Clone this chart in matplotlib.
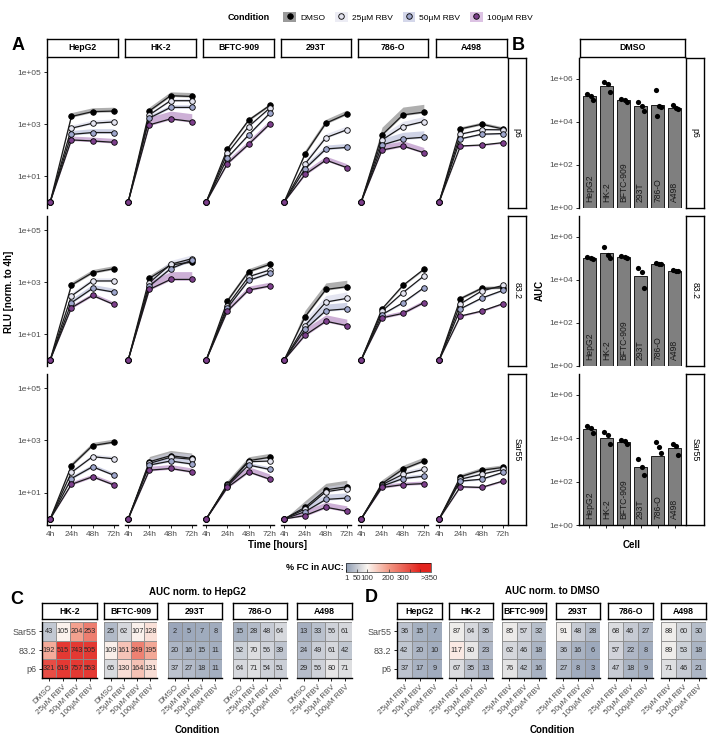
import numpy as np
import matplotlib
matplotlib.use('Agg')
import matplotlib.pyplot as plt
from matplotlib.colors import LinearSegmentedColormap, Normalize
from matplotlib.patches import Patch
from matplotlib.lines import Line2D
from matplotlib.cm import ScalarMappable
from matplotlib.ticker import NullLocator

plt.rcParams['font.family'] = ['Liberation Sans', 'DejaVu Sans']

# ---------------- data ----------------
times = ['4h', '24h', '48h', '72h']
cells = ['HepG2', 'HK-2', 'BFTC-909', '293T', '786-O', 'A498']
viruses = ['p6', '83.2', 'Sar55']
conditions = ['DMSO', '25µM RBV', '50µM RBV', '100µM RBV']

# RLU (norm. to 4h = 1) at 24h, 48h, 72h ; per cell -> per condition
rlu_p6 = [
    [[1950, 3000, 3150], [690, 1070, 1200], [400, 470, 470], [245, 223, 198]],
    [[3200, 12300, 11500], [2250, 7900, 7900], [1700, 4350, 4350], [930, 1580, 1250]],
    [[110, 1400, 5200], [75, 800, 4100], [50, 380, 2600], [30, 165, 1000]],
    [[70, 1080, 2450], [29, 300, 600], [19, 110, 126], [11.5, 41, 21]],
    [[380, 2250, 2870], [245, 800, 1250], [156, 270, 310], [100, 143, 79]],
    [[650, 980, 650], [405, 610, 600], [270, 405, 430], [143, 156, 192]],
]
rlu_832 = [
    [[760, 2300, 3250], [290, 1100, 1100], [160, 570, 410], [102, 305, 137]],
    [[1380, 4500, 5900], [940, 4800, 7900], [700, 3250, 6900], [520, 1260, 1260]],
    [[185, 2500, 4800], [125, 1600, 2900], [100, 1150, 2150], [76, 490, 700]],
    [[46, 520, 660], [21, 170, 235], [15, 80, 93], [9, 31, 21]],
    [[93, 740, 3100], [76, 390, 1700], [56, 160, 600], [42, 62, 160]],
    [[228, 570, 600], [145, 450, 740], [93, 240, 475], [49, 76, 145]],
]
rlu_sar55 = [
    [[108, 640, 860], [60, 240, 200], [35, 99, 47], [21, 41, 20]],
    [[154, 263, 208], [133, 228, 190], [115, 164, 126], [73, 85, 63]],
    [[21, 169, 228], [19.5, 154, 164], [18, 115, 78], [16, 63, 33]],
    [[2.8, 13, 17], [2.4, 11, 14.5], [1.9, 5.6, 6.3], [1.35, 2.8, 2.0]],
    [[22.5, 80, 164], [20.5, 51, 78], [18, 35, 43], [16, 20.5, 22.5]],
    [[41, 73, 93], [33, 51, 78], [28, 33, 60], [17, 16, 28]],
]
# upper ribbon width (log10 decades) per cell -> per condition
spread_p6 = [[0.15, 0.12, 0.15, 0.15], [0.15, 0.08, 0.1, 0.3], [0.08, 0.05, 0.05, 0.15],
             [0.15, 0.15, 0.15, 0.15], [0.3, 0.2, 0.25, 0.2], [0.08, 0.06, 0.05, 0.03]]
spread_832 = [[0.12, 0.12, 0.15, 0.1], [0.12, 0.15, 0.1, 0.3], [0.12, 0.08, 0.08, 0.15],
              [0.25, 0.25, 0.25, 0.25], [0.05, 0.05, 0.05, 0.1], [0.08, 0.05, 0.05, 0.05]]
spread_sar55 = [[0.12, 0.1, 0.1, 0.1], [0.2, 0.2, 0.15, 0.15], [0.15, 0.1, 0.1, 0.2],
                [0.25, 0.2, 0.2, 0.2], [0.15, 0.12, 0.1, 0.1], [0.1, 0.08, 0.05, 0.05]]

# AUC (DMSO)
auc_bar_p6 = [1.5e5, 4.6e5, 1.0e5, 5.5e4, 5.9e4, 4.6e4]
auc_pts_p6 = [[2e5, 1.6e5, 1.05e5], [7e5, 5.5e5, 2.4e5], [1.2e5, 1.0e5, 8.3e4],
              [8.7e4, 5.5e4, 3.2e4], [2.9e5, 5.5e4, 4.9e4, 1.8e4], [6e4, 4.6e4, 3.8e4]]
auc_bar_832 = [1.07e5, 1.8e5, 1.15e5, 1.5e4, 5.6e4, 2.6e4]
auc_pts_832 = [[1.15e5, 1.07e5, 9.5e4], [3.5e5, 1.4e5, 1.0e5], [1.25e5, 1.15e5, 1.07e5],
               [3.7e4, 2.2e4, 4e3], [6e4, 5.6e4, 5.3e4], [2.8e4, 2.6e4, 2.45e4]]
auc_bar_sar55 = [2.8e4, 1.07e4, 7e3, 475, 1500, 3500]
auc_pts_sar55 = [[3.7e4, 2.9e4, 1.7e4], [1.95e4, 1.4e4, 5.2e3], [8.3e3, 7.6e3, 5.2e3],
                 [1150, 490, 195], [6.8e3, 4e3, 2e3], [5.6e3, 4.5e3, 1.7e3]]

# % FC in AUC, rows: Sar55, 83.2, p6
fc_hepg2_cells = ['HK-2', 'BFTC-909', '293T', '786-O', 'A498']
fc_hepg2 = [
    [[43, 105, 204, 253], [192, 515, 743, 505], [321, 619, 757, 553]],
    [[25, 62, 107, 128], [109, 161, 249, 195], [65, 130, 164, 131]],
    [[2, 5, 7, 8], [20, 16, 15, 11], [37, 27, 18, 11]],
    [[15, 28, 48, 64], [52, 70, 56, 39], [64, 71, 54, 51]],
    [[13, 33, 56, 61], [24, 49, 61, 42], [29, 56, 80, 71]],
]
fc_dmso = [
    [[36, 15, 7], [42, 20, 10], [37, 17, 9]],
    [[87, 64, 35], [117, 80, 23], [67, 35, 13]],
    [[85, 57, 32], [62, 46, 18], [76, 42, 16]],
    [[91, 48, 28], [36, 16, 6], [27, 8, 3]],
    [[68, 46, 27], [57, 22, 8], [47, 18, 9]],
    [[88, 60, 30], [89, 53, 18], [71, 46, 21]],
]
heat_rows = ['Sar55', '83.2', 'p6']
fc_ticks = [1, 50, 100, 200, 300, 350]
fc_ticklabels = ['1', '50', '100', '200', '300', '>350']

# ---------------- styles ----------------
pt_colors = ['#000000', '#e4e4f0', '#9ea6cc', '#7d3f8c']
rib_colors = ['#6e6e6e', '#cfd1e6', '#a9b0d3', '#a46fb5']
key_colors = ['#9a9a9a', '#ececf4', '#d4d7ea', '#dcc2e3']
tick_col = '#4d4d4d'

W, H = 709, 738
fig = plt.figure(figsize=(W / 100, H / 100), dpi=100)


def box(x0, y0, x1, y1):
    return fig.add_axes([x0 / W, 1 - y1 / H, (x1 - x0) / W, (y1 - y0) / H])


def strip(x0, y0, x1, y1, label, rot=0, bold=True):
    s = box(x0, y0, x1, y1)
    s.set_xticks([])
    s.set_yticks([])
    for sp in s.spines.values():
        sp.set_linewidth(1.0)
    s.text(0.5, 0.5, label, ha='center', va='center', rotation=rot, fontsize=6.3,
           fontweight='bold' if bold else 'normal', transform=s.transAxes)


def clean(ax, left, bottom):
    for sp in ['top', 'right']:
        ax.spines[sp].set_visible(False)
    ax.spines['left'].set_visible(left)
    ax.spines['bottom'].set_visible(bottom)
    ax.spines['left'].set_linewidth(1.0)
    ax.spines['bottom'].set_linewidth(1.0)
    ax.tick_params(length=2.5, width=0.6, labelsize=6, labelcolor=tick_col, pad=1.5,
                   left=left, labelleft=left, bottom=bottom, labelbottom=bottom)
    ax.yaxis.set_minor_locator(NullLocator())


# ---------------- legend ----------------
fig.text(228 / W, 1 - 17 / H, 'Condition', fontsize=6.5, fontweight='bold', va='center')
handles = [(Patch(facecolor=key_colors[k], edgecolor='none'),
            Line2D([], [], marker='o', ls='', mfc=pt_colors[k], mec='black', mew=0.6, ms=4))
           for k in range(4)]
fig.legend(handles, conditions, loc='center', bbox_to_anchor=(408 / W, 1 - 17 / H), ncol=4,
           frameon=False, fontsize=6, handlelength=1.5, handleheight=1.6,
           handletextpad=0.5, columnspacing=1.2, borderpad=0)

# ---------------- panel A ----------------
A_cols = [(47, 118), (125, 196), (203, 274), (281, 351), (358, 428), (436, 507)]
rows = [(58, 208), (216, 366), (374, 525)]
rlu_all = [rlu_p6, rlu_832, rlu_sar55]
spread_all = [spread_p6, spread_832, spread_sar55]
xs = np.arange(len(times))

for r in range(3):
    for c in range(6):
        ax = box(A_cols[c][0], rows[r][0], A_cols[c][1], rows[r][1])
        ax.set_yscale('log')
        for k in range(4):
            vals = np.array([1] + rlu_all[r][c][k], dtype=float)
            up = vals * 10 ** np.array([0] + [spread_all[r][c][k]] * 3)
            lo = vals * 10 ** np.array([0, -0.03, -0.03, -0.03])
            ax.fill_between(xs, lo, up, color=rib_colors[k], alpha=0.55, lw=0, zorder=1)
        for k in range(4):
            vals = [1] + rlu_all[r][c][k]
            ax.plot(xs, vals, color='#1a1a1a', lw=0.9, zorder=2 + k,
                    marker='o', ms=4, mfc=pt_colors[k], mec='black', mew=0.6)
        ax.set_xlim(-0.15, 3.2)
        ax.set_ylim(10 ** -0.23, 10 ** 5.54)
        ax.set_yticks([10, 1000, 1e5])
        ax.set_yticklabels(['1e+01', '1e+03', '1e+05'])
        ax.set_xticks(xs)
        ax.set_xticklabels(times)
        clean(ax, c == 0, r == 2)
        if r == 0:
            strip(A_cols[c][0], 39, A_cols[c][1], 57, cells[c])
    strip(508, rows[r][0], 526, rows[r][1], viruses[r], rot=-90, bold=False)

fig.text(12 / W, 1 - 45 / H, 'A', fontsize=13, fontweight='bold', va='center')
fig.text(9 / W, 1 - 292 / H, 'RLU [norm. to 4h]', rotation=90, fontsize=7,
         fontweight='bold', ha='center', va='center')
fig.text(277 / W, 1 - 545 / H, 'Time [hours]', fontsize=7, fontweight='bold',
         ha='center', va='center')

# ---------------- panel B ----------------
bar_all = [auc_bar_p6, auc_bar_832, auc_bar_sar55]
pts_all = [auc_pts_p6, auc_pts_832, auc_pts_sar55]
jit = [-0.12, 0.1, 0.2, -0.05]
for r in range(3):
    ax = box(579, rows[r][0], 685, rows[r][1])
    ax.set_yscale('log')
    bx = np.arange(len(cells))
    ax.bar(bx, np.array(bar_all[r]) - 1, bottom=1, width=0.78, color='#7f7f7f',
           edgecolor='black', lw=0.6, zorder=1)
    for i, pts in enumerate(pts_all[r]):
        ax.scatter([i + jit[j] for j in range(len(pts))], pts, s=14, color='black',
                   lw=0, zorder=3)
        ax.text(i, 1.8, cells[i], rotation=90, ha='center', va='bottom', fontsize=6.2,
                color='#1a1a1a', zorder=4)
    ax.set_xlim(-0.6, 5.6)
    ax.set_ylim(1, 10 ** 6.96)
    ax.set_yticks([1, 100, 1e4, 1e6])
    ax.set_yticklabels(['1e+00', '1e+02', '1e+04', '1e+06'])
    ax.set_xticks(bx)
    ax.set_xticklabels([''] * 6)
    clean(ax, True, r == 2)
    strip(686, rows[r][0], 704, rows[r][1], viruses[r], rot=-90, bold=False)
strip(580, 39, 685, 57, 'DMSO')
fig.text(512 / W, 1 - 45 / H, 'B', fontsize=13, fontweight='bold', va='center')
fig.text(540 / W, 1 - 290 / H, 'AUC', rotation=90, fontsize=7, fontweight='bold',
         ha='center', va='center')
fig.text(632 / W, 1 - 545 / H, 'Cell', fontsize=7, fontweight='bold', ha='center', va='center')

# ---------------- heatmaps ----------------
cmap = LinearSegmentedColormap.from_list(
    'fc', [(0, '#8e9cb2'), (0.25, '#fbf6f1'), (0.5, '#f29a86'), (0.875, '#e2231d'), (1, '#e2231d')])
norm = Normalize(0, 400)


def heat(ax, vals, xlabels, show_y):
    m = np.array(vals)
    nr, nc = m.shape
    ax.pcolormesh(np.arange(nc + 1), np.arange(nr + 1), np.clip(m[::-1], 0, 400), cmap=cmap,
                  norm=norm, edgecolors='#8c8c8c', linewidth=0.4, alpha=0.9)
    for i in range(nr):
        for j in range(nc):
            ax.text(j + 0.5, nr - 1 - i + 0.5, str(m[i][j]), ha='center', va='center',
                    fontsize=5.3, color='#2b2b2b')
    ax.set_xlim(0, nc)
    ax.set_ylim(0, nr)
    ax.set_xticks(np.arange(nc) + 0.5)
    ax.set_xticklabels(xlabels, rotation=45, ha='right', rotation_mode='anchor')
    ax.set_yticks(np.arange(nr) + 0.5)
    ax.set_yticklabels(heat_rows[::-1])
    clean(ax, show_y, True)
    ax.tick_params(axis='y', labelsize=6.5)
    ax.tick_params(axis='x', labelsize=5.8)
    if not show_y:
        ax.spines['left'].set_visible(False)


C_cols = [(42, 97), (104, 157), (168, 222), (233, 287), (297, 352)]
for i, cell in enumerate(fc_hepg2_cells):
    ax = box(C_cols[i][0], 622, C_cols[i][1], 678)
    heat(ax, fc_hepg2[i], conditions, i == 0)
    strip(C_cols[i][0], 603, C_cols[i][1], 619, cell)

D_cols = [(397, 442), (449, 493), (502, 546), (556, 600), (608, 653), (661, 706)]
for i, cell in enumerate(cells):
    ax = box(D_cols[i][0], 622, D_cols[i][1], 678)
    heat(ax, fc_dmso[i], conditions[1:], i == 0)
    strip(D_cols[i][0], 603, D_cols[i][1], 619, cell)

fig.text(10 / W, 1 - 599 / H, 'C', fontsize=13, fontweight='bold', va='center')
fig.text(365 / W, 1 - 597 / H, 'D', fontsize=13, fontweight='bold', va='center')
fig.text(197 / W, 1 - 592 / H, 'AUC norm. to HepG2', fontsize=7, fontweight='bold',
         ha='center', va='center')
fig.text(552 / W, 1 - 591 / H, 'AUC norm. to DMSO', fontsize=7, fontweight='bold',
         ha='center', va='center')
fig.text(197 / W, 1 - 730 / H, 'Condition', fontsize=7, fontweight='bold', ha='center', va='center')
fig.text(552 / W, 1 - 730 / H, 'Condition', fontsize=7, fontweight='bold', ha='center', va='center')

# colour bar
cax = box(346, 563, 431, 572)
cb = fig.colorbar(ScalarMappable(norm=norm, cmap=cmap), cax=cax, orientation='horizontal')
cb.set_ticks(fc_ticks)
cb.set_ticklabels(fc_ticklabels)
cb.outline.set_linewidth(0.4)
cax.tick_params(labelsize=5.6, length=2, width=0.5, direction='in', colors='#333333', pad=2)
labs = cax.get_xticklabels()
labs[-2].set_horizontalalignment('right')
labs[-1].set_horizontalalignment('left')
fig.text(344 / W, 1 - 567 / H, '% FC in AUC:', fontsize=6.5, fontweight='bold', ha='right',
         va='center')

fig.savefig('out.png', dpi=100)
